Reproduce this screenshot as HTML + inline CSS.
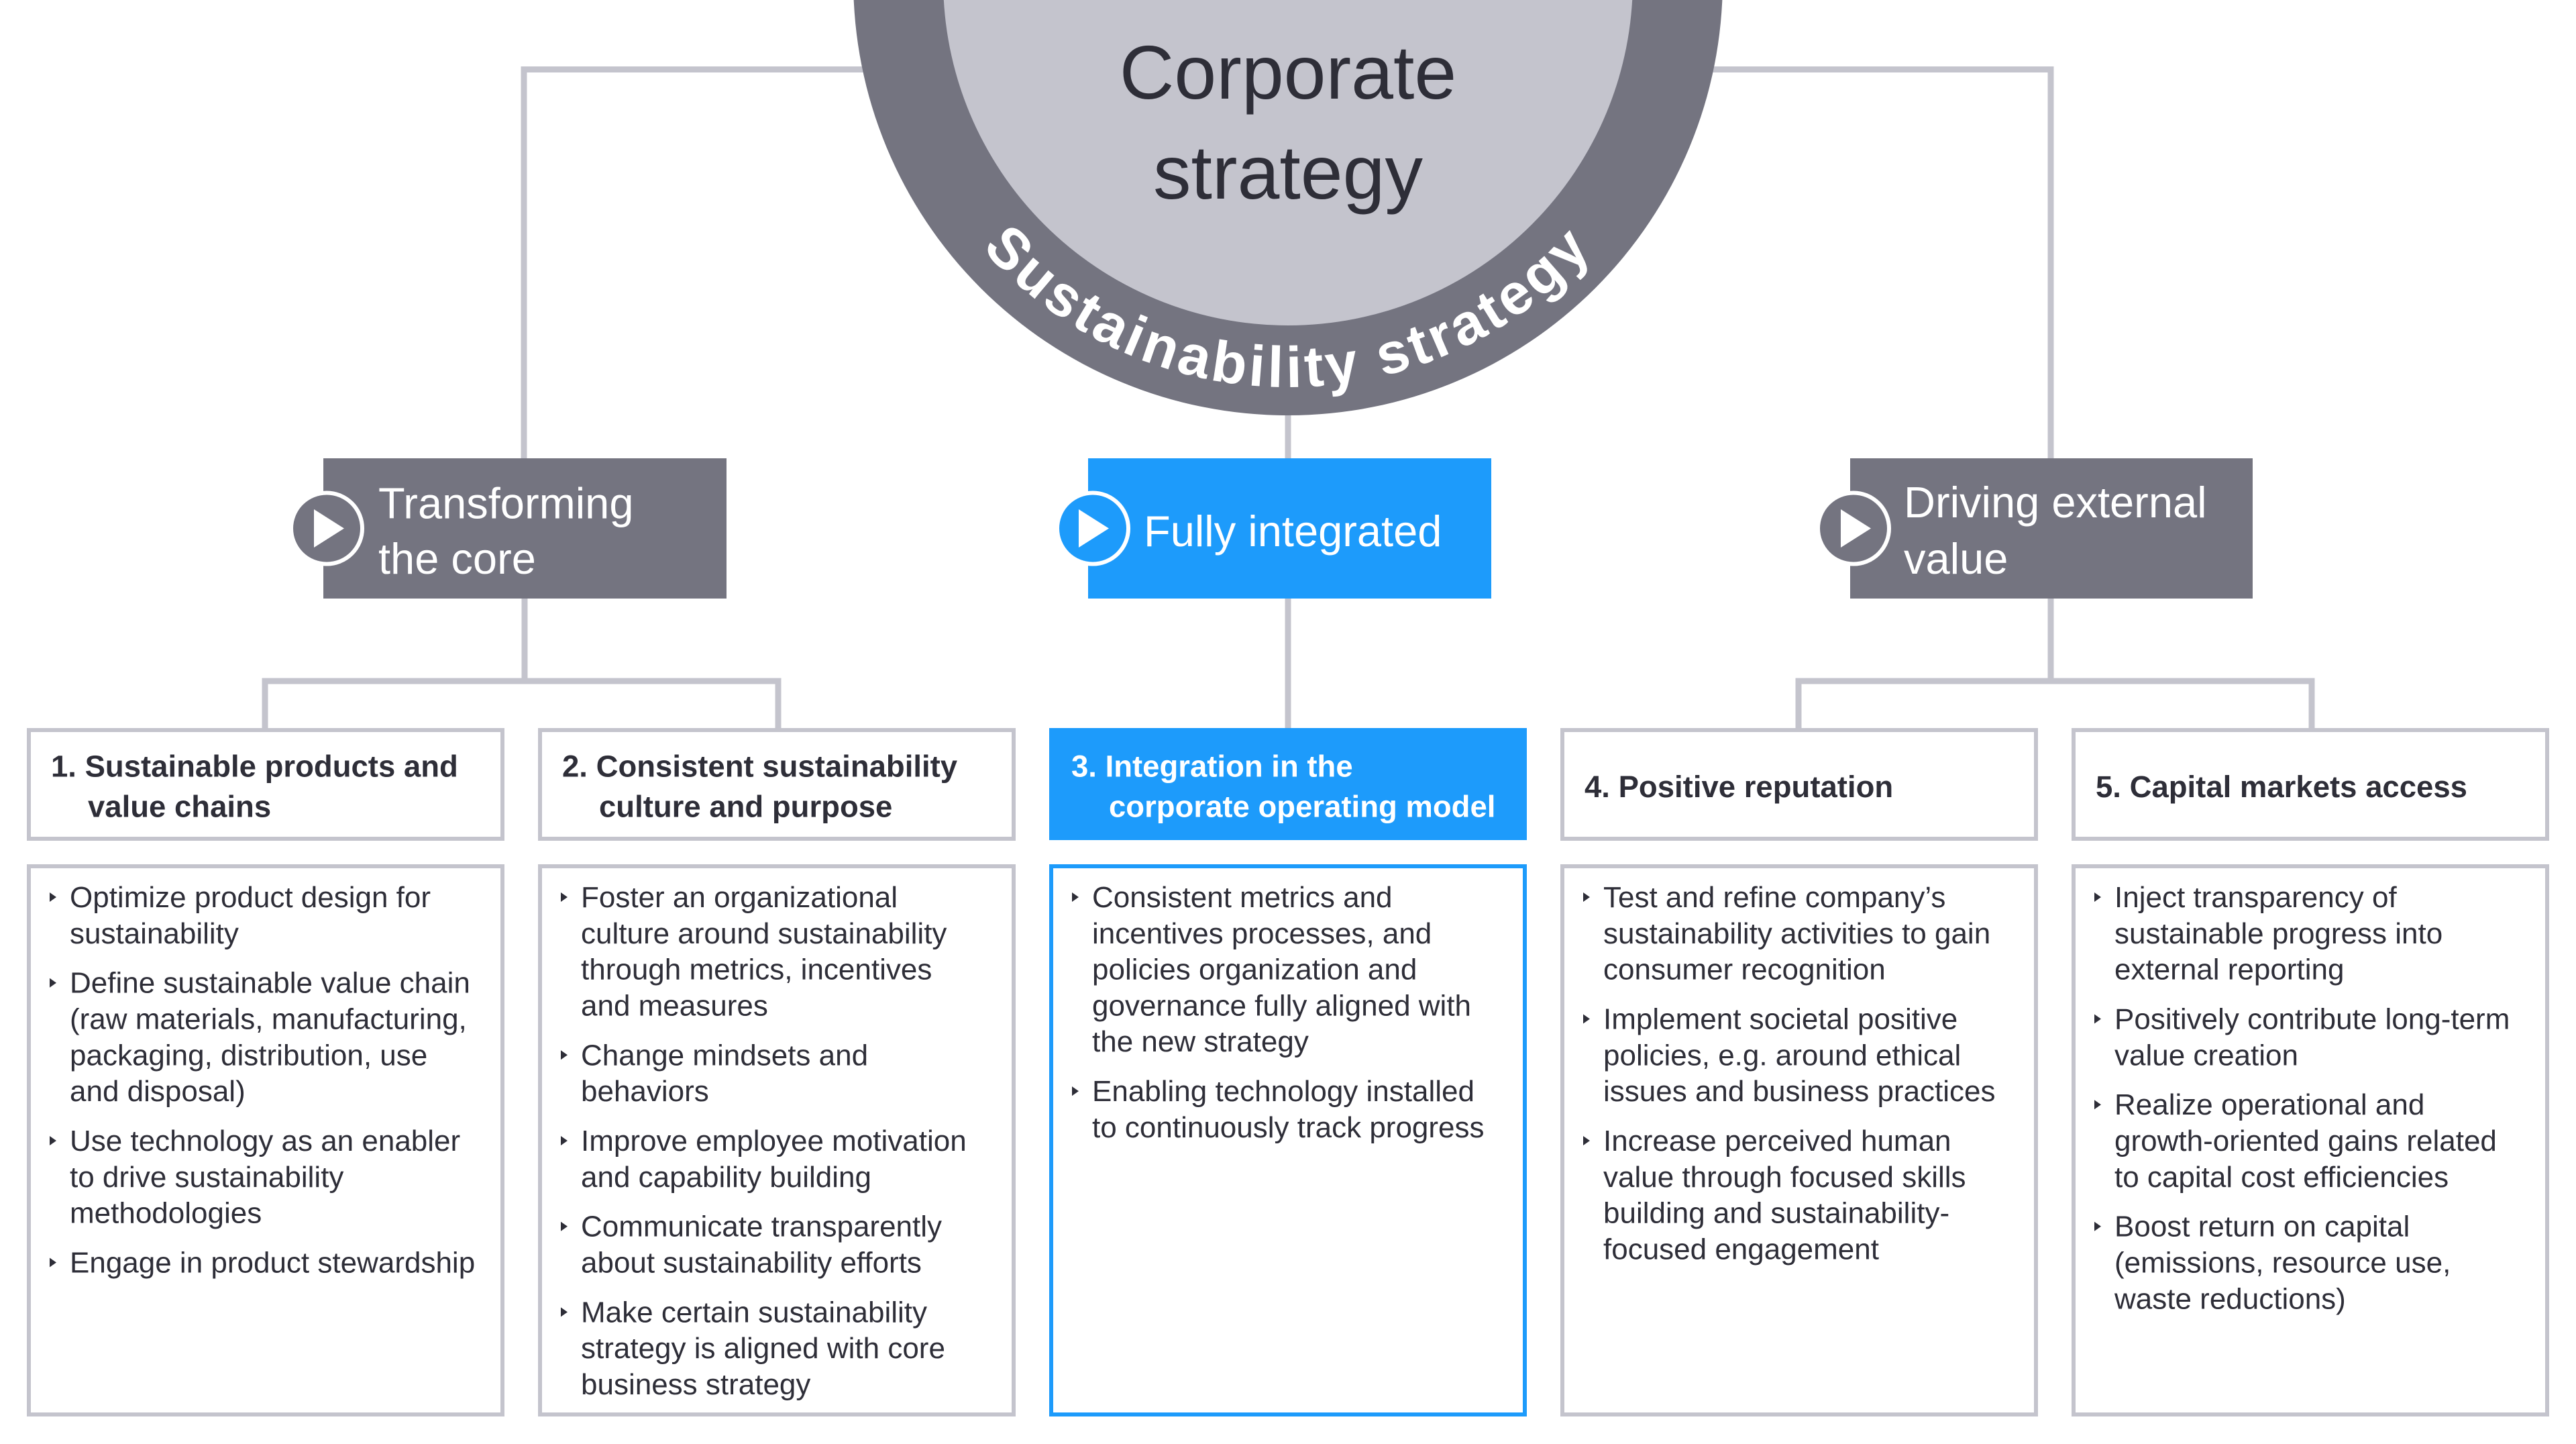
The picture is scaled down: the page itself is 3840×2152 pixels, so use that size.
<!DOCTYPE html>
<html>
<head>
<meta charset="utf-8">
<style>
  html, body { margin: 0; padding: 0; background: #ffffff; }
  body { width: 3840px; height: 2152px; overflow: hidden; }
  svg { display: block; }
  .sans { font-family: "Liberation Sans", "DejaVu Sans", sans-serif; }
  .body { font-size: 44px; fill: #2e2e38; }
  .hdr { font-size: 45.5px; font-weight: bold; fill: #2e2e38; }
  .lvl { font-size: 65px; fill: #ffffff; }
</style>
</head>
<body>
<svg width="3840" height="2152" viewBox="0 0 3840 2152" xmlns="http://www.w3.org/2000/svg" class="sans">
  <defs>
    <path id="arc" d="M1314 -29 A606 606 0 0 0 2526 -29" fill="none"/>
  </defs>

  <!-- connectors -->
  <g fill="none" stroke="#c4c4cd" stroke-width="9" stroke-linejoin="miter" stroke-linecap="butt">
    <path d="M781 683 V103.5 H3057 V683"/>
    <path d="M1920 400 V683"/>
    <path d="M782 892 V1015"/>
    <path d="M395 1085 V1015 H1160 V1085"/>
    <path d="M1920 892 V1085"/>
    <path d="M3057 892 V1015"/>
    <path d="M2681 1085 V1015 H3446 V1085"/>
  </g>

  <!-- central circle -->
  <circle cx="1920" cy="-29" r="648" fill="#747480"/>
  <circle cx="1920" cy="-29" r="514" fill="#c4c4cd"/>
  <text x="1920" y="147" text-anchor="middle" font-size="113" fill="#2e2e38">Corporate</text>
  <text x="1920" y="296" text-anchor="middle" font-size="113" fill="#2e2e38">strategy</text>
  <text font-size="86" font-weight="bold" fill="#ffffff" letter-spacing="5">
    <textPath href="#arc" startOffset="50%" text-anchor="middle">Sustainability strategy</textPath>
  </text>

  <!-- level boxes -->
  <rect x="482" y="683" width="601" height="209" fill="#747480"/>
  <circle cx="487" cy="787.5" r="53" fill="#747480" stroke="#ffffff" stroke-width="6"/>
  <polygon points="468,759 513,787.5 468,816" fill="#ffffff"/>
  <text class="lvl" x="564" y="772.6">Transforming</text>
  <text class="lvl" x="564" y="855">the core</text>

  <rect x="1622" y="683" width="601" height="209" fill="#1d9bfb"/>
  <circle cx="1629" cy="787.5" r="53" fill="#1d9bfb" stroke="#ffffff" stroke-width="6"/>
  <polygon points="1608,759 1653,787.5 1608,816" fill="#ffffff"/>
  <text class="lvl" x="1705" y="814">Fully integrated</text>

  <rect x="2758" y="683" width="600" height="209" fill="#747480"/>
  <circle cx="2763" cy="787.5" r="53" fill="#747480" stroke="#ffffff" stroke-width="6"/>
  <polygon points="2744,759 2789,787.5 2744,816" fill="#ffffff"/>
  <text class="lvl" x="2838" y="771">Driving external</text>
  <text class="lvl" x="2838" y="855">value</text>

  <!-- header boxes -->
  <g fill="#ffffff" stroke="#c4c4cd" stroke-width="6">
    <rect x="43" y="1088" width="706" height="162"/>
    <rect x="805" y="1088" width="706" height="162"/>
    <rect x="2329" y="1088" width="706" height="162"/>
    <rect x="3091" y="1088" width="706" height="162"/>
  </g>
  <rect x="1564" y="1085" width="712" height="167" fill="#1d9bfb"/>

  <text class="hdr" x="76" y="1157.6">1. Sustainable products and</text>
  <text class="hdr" x="131" y="1217.6">value chains</text>
  <text class="hdr" x="838" y="1157.6">2. Consistent sustainability</text>
  <text class="hdr" x="893" y="1217.6">culture and purpose</text>
  <text class="hdr" x="1597" y="1157.6" style="fill:#ffffff">3. Integration in the</text>
  <text class="hdr" x="1653" y="1217.6" style="fill:#ffffff">corporate operating model</text>
  <text class="hdr" x="2362" y="1188">4. Positive reputation</text>
  <text class="hdr" x="3124" y="1188">5. Capital markets access</text>

  <!-- body boxes -->
  <g fill="#ffffff" stroke="#c4c4cd" stroke-width="6">
    <rect x="43" y="1291" width="706" height="817"/>
    <rect x="805" y="1291" width="706" height="817"/>
    <rect x="2329" y="1291" width="706" height="817"/>
    <rect x="3091" y="1291" width="706" height="817"/>
  </g>
  <rect x="1567" y="1291" width="706" height="817" fill="#ffffff" stroke="#1d9bfb" stroke-width="6"/>

  <!-- bullets -->
  <g fill="#2e2e38">
    <!-- col1 -->
    <polygon points="74,1330 84,1337 74,1344"/>
    <polygon points="74,1457.7 84,1464.7 74,1471.7"/>
    <polygon points="74,1693 84,1700 74,1707"/>
    <polygon points="74,1874.5 84,1881.5 74,1888.5"/>
    <!-- col2 -->
    <polygon points="836,1330 846,1337 836,1344"/>
    <polygon points="836,1565.3 846,1572.3 836,1579.3"/>
    <polygon points="836,1693 846,1700 836,1707"/>
    <polygon points="836,1820.7 846,1827.7 836,1834.7"/>
    <polygon points="836,1948.4 846,1955.4 836,1962.4"/>
    <!-- col3 -->
    <polygon points="1598,1330 1608,1337 1598,1344"/>
    <polygon points="1598,1619.1 1608,1626.1 1598,1633.1"/>
    <!-- col4 -->
    <polygon points="2360,1330 2370,1337 2360,1344"/>
    <polygon points="2360,1511.5 2370,1518.5 2360,1525.5"/>
    <polygon points="2360,1693 2370,1700 2360,1707"/>
    <!-- col5 -->
    <polygon points="3122,1330 3132,1337 3122,1344"/>
    <polygon points="3122,1511.5 3132,1518.5 3122,1525.5"/>
    <polygon points="3122,1639.2 3132,1646.2 3122,1653.2"/>
    <polygon points="3122,1820.7 3132,1827.7 3122,1834.7"/>
  </g>

  <!-- body text col1 -->
  <g class="body">
    <text x="104" y="1352">Optimize product design for</text>
    <text x="104" y="1405.8">sustainability</text>
    <text x="104" y="1479.7">Define sustainable value chain</text>
    <text x="104" y="1533.5">(raw materials, manufacturing,</text>
    <text x="104" y="1587.3">packaging, distribution, use</text>
    <text x="104" y="1641.1">and disposal)</text>
    <text x="104" y="1715">Use technology as an enabler</text>
    <text x="104" y="1768.8">to drive sustainability</text>
    <text x="104" y="1822.6">methodologies</text>
    <text x="104" y="1896.5">Engage in product stewardship</text>
  </g>

  <!-- body text col2 -->
  <g class="body">
    <text x="866" y="1352">Foster an organizational</text>
    <text x="866" y="1405.8">culture around sustainability</text>
    <text x="866" y="1459.6">through metrics, incentives</text>
    <text x="866" y="1513.4">and measures</text>
    <text x="866" y="1587.3">Change mindsets and</text>
    <text x="866" y="1641.1">behaviors</text>
    <text x="866" y="1715">Improve employee motivation</text>
    <text x="866" y="1768.8">and capability building</text>
    <text x="866" y="1842.7">Communicate transparently</text>
    <text x="866" y="1896.5">about sustainability efforts</text>
    <text x="866" y="1970.4">Make certain sustainability</text>
    <text x="866" y="2024.2">strategy is aligned with core</text>
    <text x="866" y="2078">business strategy</text>
  </g>

  <!-- body text col3 -->
  <g class="body">
    <text x="1628" y="1352">Consistent metrics and</text>
    <text x="1628" y="1405.8">incentives processes, and</text>
    <text x="1628" y="1459.6">policies organization and</text>
    <text x="1628" y="1513.4">governance fully aligned with</text>
    <text x="1628" y="1567.2">the new strategy</text>
    <text x="1628" y="1641.1">Enabling technology installed</text>
    <text x="1628" y="1694.9">to continuously track progress</text>
  </g>

  <!-- body text col4 -->
  <g class="body">
    <text x="2390" y="1352">Test and refine company’s</text>
    <text x="2390" y="1405.8">sustainability activities to gain</text>
    <text x="2390" y="1459.6">consumer recognition</text>
    <text x="2390" y="1533.5">Implement societal positive</text>
    <text x="2390" y="1587.3">policies, e.g. around ethical</text>
    <text x="2390" y="1641.1">issues and business practices</text>
    <text x="2390" y="1715">Increase perceived human</text>
    <text x="2390" y="1768.8">value through focused skills</text>
    <text x="2390" y="1822.6">building and sustainability-</text>
    <text x="2390" y="1876.4">focused engagement</text>
  </g>

  <!-- body text col5 -->
  <g class="body">
    <text x="3152" y="1352">Inject transparency of</text>
    <text x="3152" y="1405.8">sustainable progress into</text>
    <text x="3152" y="1459.6">external reporting</text>
    <text x="3152" y="1533.5">Positively contribute long-term</text>
    <text x="3152" y="1587.3">value creation</text>
    <text x="3152" y="1661.2">Realize operational and</text>
    <text x="3152" y="1715">growth-oriented gains related</text>
    <text x="3152" y="1768.8">to capital cost efficiencies</text>
    <text x="3152" y="1842.7">Boost return on capital</text>
    <text x="3152" y="1896.5">(emissions, resource use,</text>
    <text x="3152" y="1950.3">waste reductions)</text>
  </g>
</svg>
</body>
</html>
